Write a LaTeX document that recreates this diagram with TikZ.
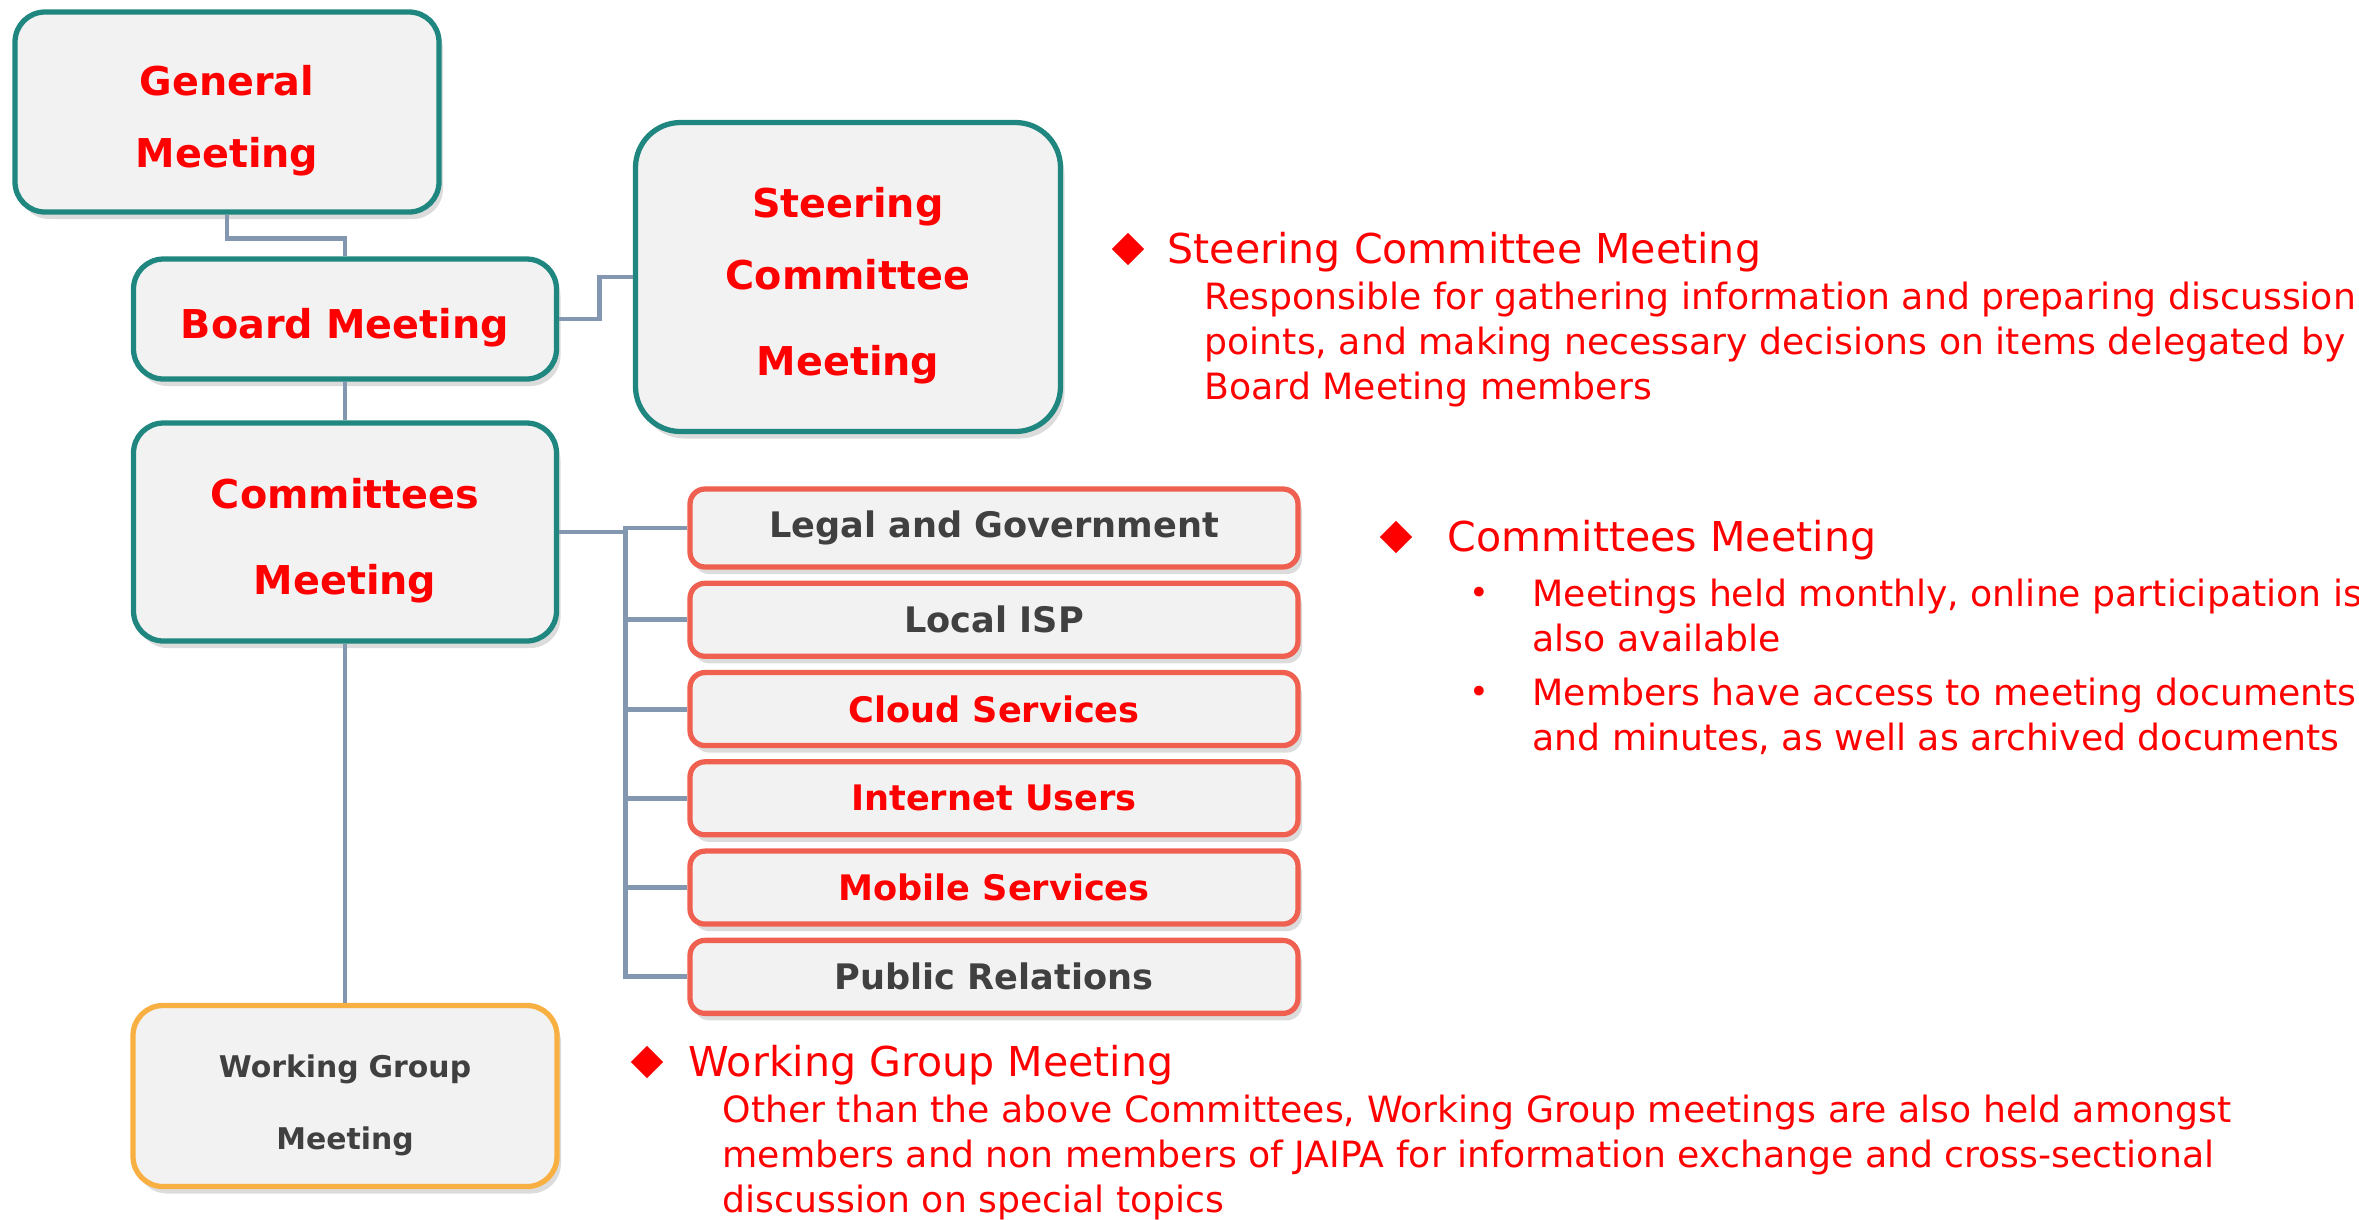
\documentclass[tikz,border=0pt]{standalone}
\usepackage{fontspec}
\setmainfont{DejaVu Sans}
\usetikzlibrary{positioning,shadows,shapes.geometric}
\definecolor{tealline}{HTML}{1F877F}
\definecolor{boxfill}{HTML}{F2F2F2}
\definecolor{linkcol}{HTML}{8497B0}
\definecolor{salmon}{HTML}{F06050}
\definecolor{amber}{HTML}{F9B042}
\definecolor{darktext}{HTML}{404040}
\definecolor{hotred}{HTML}{FF0000}

\begin{document}
\begin{tikzpicture}[x=0.1mm, y=-0.1mm,
  mainbox/.style={draw=tealline, line width=1.5pt, fill=boxfill, rounded corners=3mm,
                  text width=40mm, align=center, text=hotred, inner sep=0pt,
                  font=\bfseries\fontsize{11.3}{20.5}\selectfont,
                  drop shadow={shadow xshift=0.4mm, shadow yshift=-0.7mm, opacity=0.3, fill=black!45}},
  lift/.style={execute at begin node={\rule{0pt}{#1}}},
  subbox/.style={draw=salmon, line width=1.5pt, fill=boxfill, rounded corners=1.5mm,
                 minimum width=60.8mm, minimum height=7.3mm, inner sep=0pt,
                 font=\bfseries\fontsize{10}{12}\selectfont,
                 drop shadow={shadow xshift=0.4mm, shadow yshift=-0.7mm, opacity=0.3, fill=black!45}},
  link/.style={draw=linkcol, line width=1.4pt},
  diamark/.style={diamond, fill=hotred, minimum size=3.3mm, inner sep=0pt},
  head/.style={anchor=west, inner sep=0pt, text=hotred, font=\fontsize{11.7}{13}\selectfont},
  desc/.style={anchor=north west, inner sep=0pt, align=left, text=hotred,
               font=\fontsize{10.3}{12.8}\selectfont},
  dot/.style={inner sep=0pt, text=hotred, font=\fontsize{9.5}{12.8}\selectfont}
]
  \useasboundingbox (0,0) rectangle (2359,1219);

  % organisation boxes
  \node[mainbox, lift=4.8mm, minimum width=42.4mm, minimum height=20mm] (general) at (227,112) {General\\Meeting};
  \node[mainbox, lift=4.8mm, minimum width=42.3mm, minimum height=12mm] (board) at (345,319) {Board Meeting};
  \node[mainbox, lift=4.8mm, rounded corners=4.5mm, minimum width=42.5mm, minimum height=30.9mm] (steering)
       at (848,277) {Steering\\Committee\\[4pt]Meeting};
  \node[mainbox, lift=4.8mm, minimum width=42.3mm, minimum height=21.8mm] (committees) at (345,532) {Committees\\[4pt]Meeting};
  \node[mainbox, lift=4.1mm, draw=amber, text=darktext, font=\bfseries\fontsize{8.5}{20.5}\selectfont,
        minimum width=42.4mm, minimum height=18.1mm] (wg) at (345,1096) {Working Group\\Meeting};

  % committees
  \node[subbox, text=darktext, minimum height=7.8mm] (legal) at (994,528) {Legal and Government};
  \node[subbox, text=darktext, below=1.1mm of legal] (localisp) {Local ISP};
  \node[subbox, text=hotred, below=1.1mm of localisp] (cloud) {Cloud Services};
  \node[subbox, text=hotred, below=1.1mm of cloud] (users) {Internet Users};
  \node[subbox, text=hotred, below=1.1mm of users] (mobile) {Mobile Services};
  \node[subbox, text=darktext, below=1.1mm of mobile] (pr) {Public Relations};

  % connectors
  \draw[link] (general.south) -- ++(0,24) -| (board.north);
  \draw[link] (board.east) -- ++(40,0) |- (steering.west);
  \draw[link] (board.south) -- (committees.north);
  \draw[link] (committees.south) -- (wg.north);
  \draw[link] (committees.east) -- ++(66,0) coordinate (trunk);
  \draw[link] (trunk) |- (legal.west);
  \draw[link] (trunk) |- (localisp.west);
  \draw[link] (trunk) |- (cloud.west);
  \draw[link] (trunk) |- (users.west);
  \draw[link] (trunk) |- (mobile.west);
  \draw[link] (trunk) |- (pr.west);

  % notes
  \node[diamark] (mk1) at (1128,249) {};
  \node[head] (h1) at (1167,252) {Steering Committee Meeting};
  \node[desc] (d1) at (1204,281) {Responsible for gathering information and preparing discussion\\
    points, and making necessary decisions on items delegated by\\Board Meeting members};

  \node[diamark] (mk2) at (1396,537) {};
  \node[head] (h2) at (1447,540) {Committees Meeting};
  \node[dot] (b1) at (1479,596) {•};
  \node[desc] (d2a) at (1532,578) {Meetings held monthly, online participation is\\also available};
  \node[dot] (b2) at (1479,695) {•};
  \node[desc] (d2b) at (1532,677) {Members have access to meeting documents\\and minutes, as well as archived documents};

  \node[diamark] (mk3) at (647,1062) {};
  \node[head] (h3) at (688,1065) {Working Group Meeting};
  \node[desc] (d3) at (722,1094) {Other than the above Committees, Working Group meetings are also held amongst\\
    members and non members of JAIPA for information exchange and cross-sectional\\discussion on special topics};
\end{tikzpicture}
\end{document}
